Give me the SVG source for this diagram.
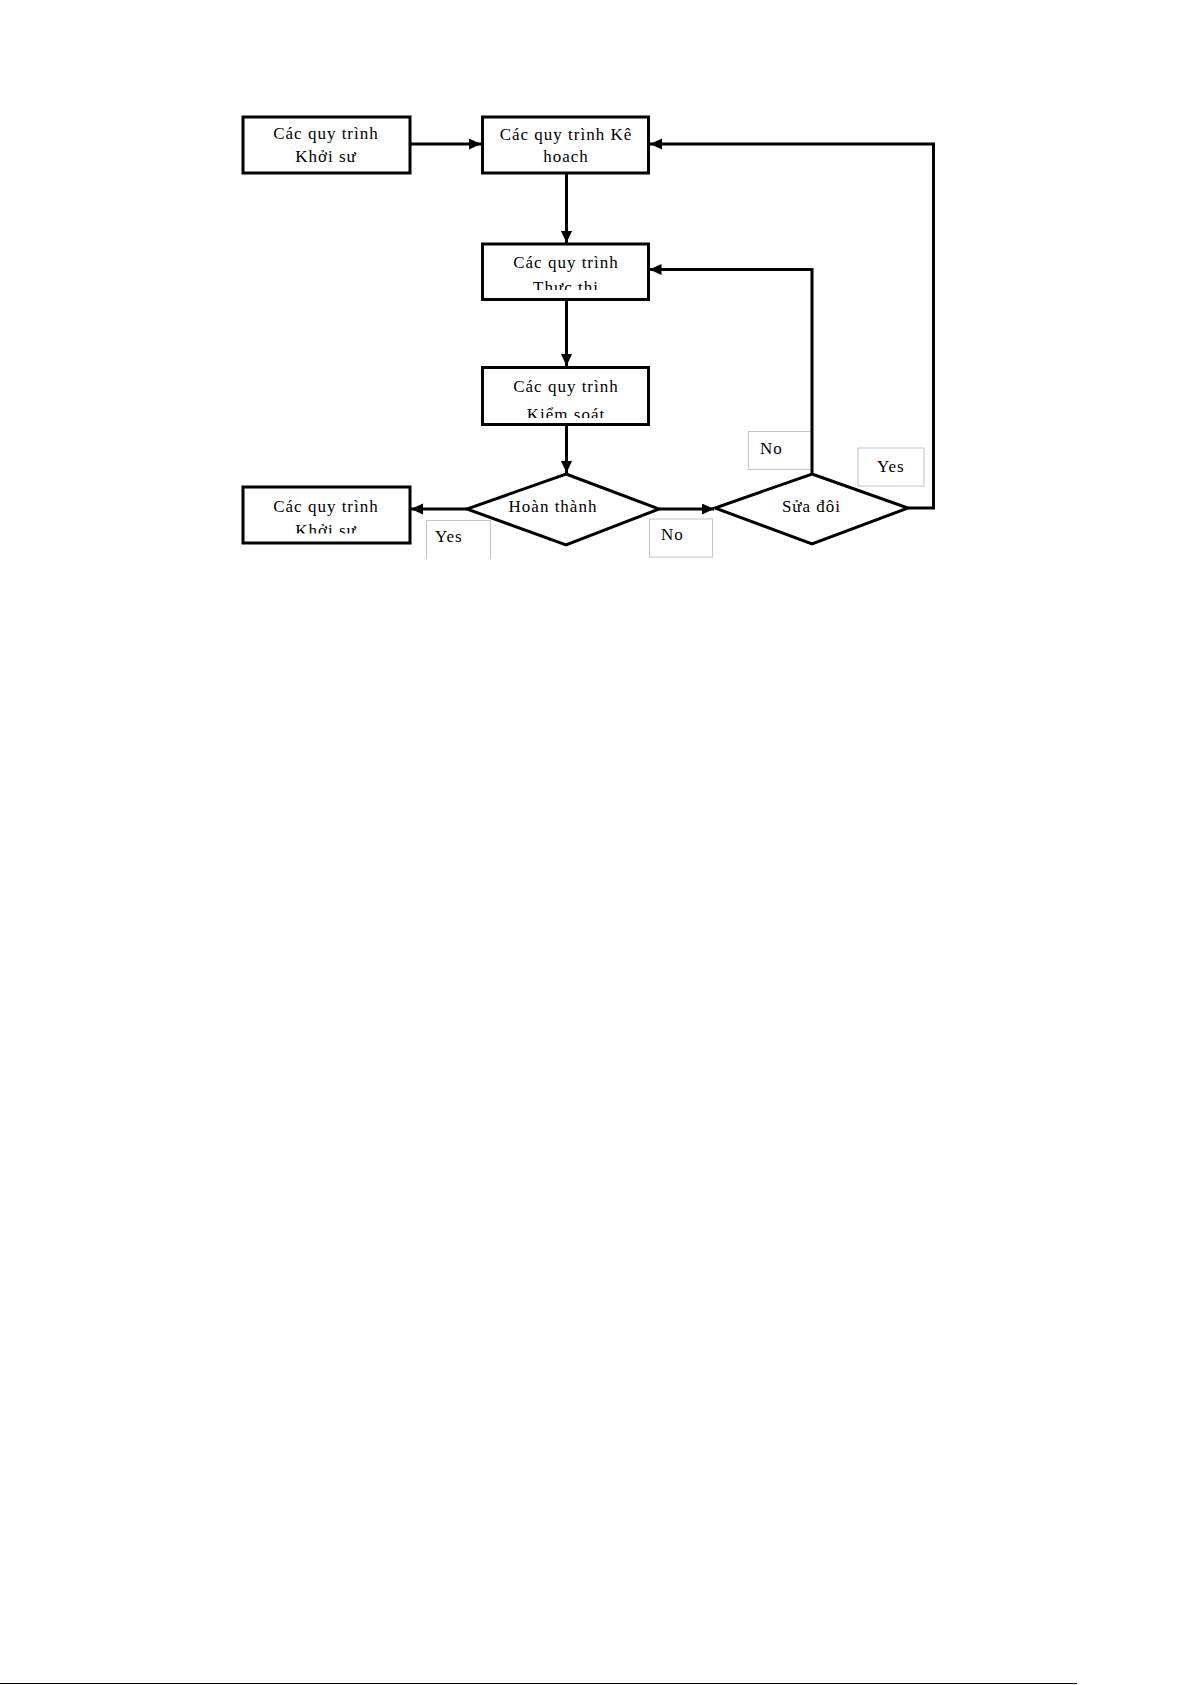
<svg xmlns="http://www.w3.org/2000/svg" width="1192" height="1685" viewBox="0 0 1192 1685">
<style>
.node{fill:#fff;stroke:#000;stroke-width:3}
.lbl{fill:#fff;stroke:#c4c4c4;stroke-width:1}
.conn{fill:none;stroke:#000;stroke-width:3}
text{font-family:"Liberation Serif","Times New Roman",serif;font-size:17px;letter-spacing:1px;fill:#000}
.c{text-anchor:middle}
</style>
<defs>
<marker id="ah" markerUnits="userSpaceOnUse" markerWidth="13" markerHeight="12" refX="12" refY="5.5" orient="auto">
<path d="M0,0 L12,5.5 L0,11 z" fill="#000"/>
</marker>
<clipPath id="clip3"><rect x="480" y="240" width="170" height="50"/></clipPath>
<clipPath id="clip4"><rect x="480" y="364" width="170" height="54"/></clipPath>
<clipPath id="clip5"><rect x="240" y="484" width="172" height="49.5"/></clipPath>
</defs>
<rect width="1192" height="1685" fill="#fff"/>

<g id="labels">
<g id="lbl-no-top"><rect class="lbl" x="748.5" y="431.5" width="63" height="38"/><text x="760" y="454">No</text></g>
<g id="lbl-yes-right"><rect class="lbl" x="858" y="448" width="66" height="38"/><text x="877" y="471.5">Yes</text></g>
<g id="lbl-no-bottom"><rect class="lbl" x="649.5" y="519" width="63" height="38"/><text x="661" y="540">No</text></g>
<g id="lbl-yes-bottom"><path class="lbl" d="M426.5,559 V520.5 H490.5 V559"/><text x="435" y="542">Yes</text></g>
</g>

<g id="connectors">
<line class="conn" x1="411" y1="144" x2="481" y2="144" marker-end="url(#ah)"/>
<line class="conn" x1="566.5" y1="174" x2="566.5" y2="243" marker-end="url(#ah)"/>
<line class="conn" x1="566.5" y1="300" x2="566.5" y2="366" marker-end="url(#ah)"/>
<line class="conn" x1="566.5" y1="426" x2="566.5" y2="473" marker-end="url(#ah)"/>
<line class="conn" x1="467" y1="509" x2="411" y2="509" marker-end="url(#ah)"/>
<line class="conn" x1="659" y1="509" x2="714" y2="509" marker-end="url(#ah)"/>
<polyline class="conn" points="812,474 812,269.5 649.5,269.5" marker-end="url(#ah)"/>
<polyline class="conn" points="908,508 933.5,508 933.5,144 650,144" marker-end="url(#ah)"/>
</g>

<g id="n-khoi-su-1">
<rect class="node" x="243" y="117" width="167" height="56"/>
<text class="c" x="326" y="139">Các quy trình</text>
<text class="c" x="326" y="162">Khởi sư</text>
</g>
<g id="n-ke-hoach">
<rect class="node" x="482.5" y="117" width="166" height="56"/>
<text class="c" x="566" y="140">Các quy trình Kê</text>
<text class="c" x="566" y="162">hoach</text>
</g>
<g id="n-thuc-thi">
<rect class="node" x="482.5" y="244" width="166" height="55.5"/>
<text class="c" x="566" y="268">Các quy trình</text>
<text class="c" x="566" y="293" clip-path="url(#clip3)">Thực thi</text>
</g>
<g id="n-kiem-soat">
<rect class="node" x="482.5" y="367.5" width="166" height="57"/>
<text class="c" x="566" y="391.5">Các quy trình</text>
<text class="c" x="566" y="419.5" clip-path="url(#clip4)">Kiểm soát</text>
</g>
<g id="n-hoan-thanh">
<polygon class="node" points="566,474 659,509 566,545 467,509"/>
<text class="c" x="553" y="512">Hoàn thành</text>
</g>
<g id="n-sua-doi">
<polygon class="node" points="812,474 908,508 812,544 715,508"/>
<text class="c" x="811.5" y="511.5">Sửa đôi</text>
</g>
<g id="n-khoi-su-2">
<rect class="node" x="243" y="487" width="167" height="56"/>
<text class="c" x="326" y="511.5">Các quy trình</text>
<text class="c" x="326" y="535.5" clip-path="url(#clip5)">Khởi sư</text>
</g>

<line x1="0" y1="1683.5" x2="1077" y2="1683.5" stroke="#000" stroke-width="1.2"/>
</svg>
